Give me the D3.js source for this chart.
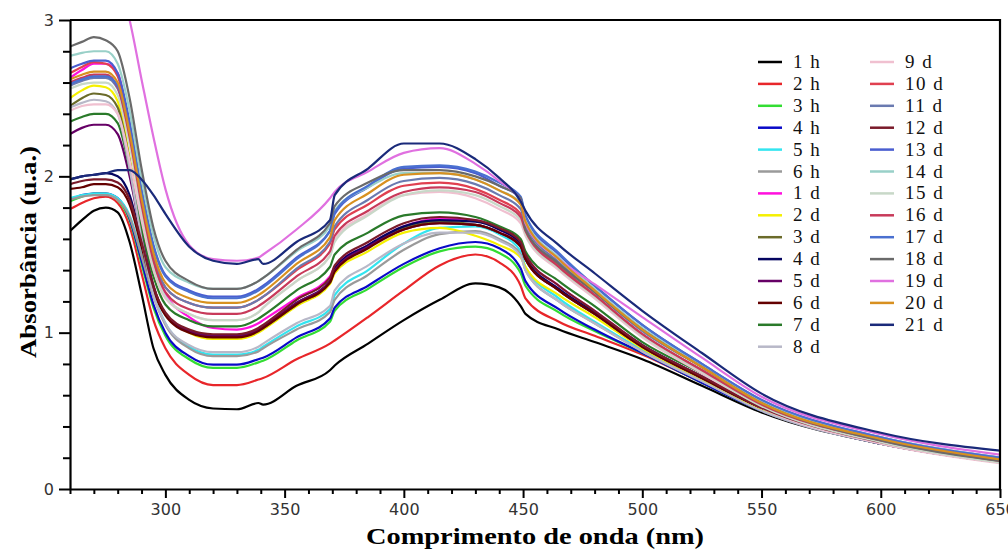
<!DOCTYPE html>
<html><head><meta charset="utf-8">
<script src="https://cdn.jsdelivr.net/npm/d3@7"></script>
<style>body{margin:0;background:#fff}svg{display:block}</style>
</head><body>
<svg id="c" width="1008" height="550"></svg>
<script>
const wavelengths = [260,265,270,275,280,285,290,295,300,310,320,330,339,341,355,369,371,385,400,415,430,440,449,451,465,480,500,525,550,600,650];
const seriesNames = ["1 h","2 h","3 h","4 h","5 h","6 h","1 d","2 d","3 d","4 d","5 d","6 d","7 d","8 d","9 d","10 d","11 d","12 d","13 d","14 d","15 d","16 d","17 d","18 d","19 d","20 d","21 d"];
const seriesColors = ["#000000","#e8262a","#33dd33","#0a0ac8","#33e5f0","#9a9a9a","#ff10dd","#f5f000","#6b6b2a","#050560","#660066","#640000","#2a7a2a","#b8b8c8","#f0c0d0","#e04050","#6a7ab0","#7a1a2a","#4a5ed0","#99d0c8","#c8d8c8","#c83a5a","#4a70d0","#6a6a6a","#e070e0","#d89020","#1a2a7a"];
const s1h  = [1.65,1.72,1.78,1.80,1.77,1.58,1.25,0.90,0.73,0.57,0.515,0.51,0.55,0.54,0.66,0.76,0.79,0.93,1.08,1.21,1.315,1.29,1.17,1.12,1.02,0.94,0.83,0.66,0.49,0.29,0.17];
const s2h  = [1.79,1.83,1.86,1.87,1.83,1.68,1.38,1.08,0.90,0.73,0.665,0.665,0.70,0.71,0.83,0.93,0.95,1.10,1.27,1.43,1.50,1.45,1.30,1.22,1.07,0.98,0.86,0.68,0.50,0.29,0.17];
const s3h  = [1.84,1.87,1.89,1.89,1.85,1.72,1.44,1.16,0.98,0.83,0.775,0.775,0.81,0.82,0.95,1.07,1.14,1.28,1.42,1.52,1.55,1.51,1.38,1.30,1.13,1.01,0.87,0.68,0.50,0.29,0.17];
const s4h  = [1.85,1.88,1.89,1.89,1.86,1.73,1.46,1.18,1.00,0.85,0.795,0.795,0.83,0.84,0.97,1.09,1.16,1.30,1.44,1.54,1.58,1.54,1.41,1.33,1.15,1.02,0.87,0.68,0.50,0.29,0.17];
const s5h  = [1.86,1.88,1.89,1.89,1.86,1.75,1.50,1.24,1.06,0.91,0.86,0.86,0.89,0.91,1.04,1.15,1.24,1.40,1.57,1.67,1.68,1.63,1.52,1.42,1.22,1.07,0.89,0.70,0.51,0.30,0.18];
const s6h  = [1.85,1.87,1.88,1.88,1.85,1.74,1.49,1.23,1.05,0.90,0.85,0.85,0.88,0.90,1.02,1.13,1.21,1.37,1.53,1.63,1.65,1.60,1.50,1.40,1.20,1.06,0.88,0.69,0.51,0.30,0.18];
const s1d  = [2.63,2.68,2.72,2.72,2.66,2.30,1.82,1.45,1.25,1.10,1.03,1.02,1.06,1.08,1.22,1.36,1.42,1.56,1.68,1.73,1.72,1.66,1.56,1.50,1.30,1.14,0.92,0.72,0.53,0.31,0.19];
const s2d  = [2.50,2.55,2.58,2.57,2.48,2.12,1.66,1.30,1.12,1.00,0.96,0.96,1.00,1.02,1.17,1.31,1.38,1.52,1.64,1.67,1.62,1.56,1.48,1.42,1.24,1.10,0.90,0.70,0.51,0.30,0.18];
const s3d  = [2.45,2.50,2.53,2.52,2.44,2.10,1.65,1.30,1.12,1.01,0.975,0.975,1.01,1.03,1.18,1.32,1.40,1.55,1.67,1.71,1.69,1.64,1.55,1.47,1.27,1.12,0.91,0.71,0.52,0.30,0.18];
const s4d  = [1.98,2.00,2.01,2.02,2.00,1.88,1.58,1.28,1.12,1.01,0.98,0.98,1.02,1.04,1.19,1.33,1.41,1.56,1.68,1.72,1.71,1.66,1.57,1.48,1.28,1.13,0.92,0.72,0.52,0.30,0.18];
const s5d  = [2.27,2.31,2.33,2.33,2.27,2.00,1.62,1.30,1.12,1.01,0.98,0.98,1.02,1.04,1.19,1.33,1.40,1.55,1.66,1.70,1.69,1.64,1.55,1.47,1.27,1.12,0.91,0.71,0.52,0.30,0.18];
const s6d  = [1.92,1.93,1.95,1.95,1.93,1.82,1.55,1.27,1.11,1.00,0.97,0.97,1.01,1.03,1.18,1.32,1.39,1.54,1.66,1.70,1.69,1.64,1.55,1.47,1.27,1.12,0.91,0.71,0.52,0.30,0.18];
const s7d  = [2.35,2.38,2.40,2.40,2.34,2.05,1.67,1.36,1.18,1.08,1.04,1.04,1.09,1.11,1.27,1.42,1.50,1.64,1.75,1.77,1.74,1.68,1.60,1.52,1.33,1.17,0.94,0.74,0.53,0.31,0.18];
const s8d  = [2.44,2.47,2.49,2.48,2.40,2.05,1.60,1.24,1.06,0.92,0.875,0.875,0.91,0.93,1.06,1.17,1.27,1.43,1.57,1.64,1.64,1.59,1.49,1.40,1.20,1.06,0.88,0.69,0.50,0.29,0.17];
const s9d  = [2.42,2.45,2.46,2.46,2.40,2.10,1.72,1.40,1.22,1.12,1.08,1.08,1.13,1.16,1.33,1.49,1.60,1.76,1.88,1.90,1.86,1.79,1.70,1.62,1.40,1.22,0.97,0.74,0.52,0.29,0.165];
const s10d = [2.66,2.70,2.73,2.72,2.64,2.30,1.85,1.48,1.29,1.19,1.16,1.16,1.21,1.23,1.40,1.57,1.66,1.82,1.94,1.96,1.92,1.85,1.76,1.66,1.43,1.24,0.99,0.76,0.54,0.31,0.18];
const s11d = [2.58,2.61,2.63,2.63,2.56,2.25,1.83,1.48,1.29,1.19,1.16,1.16,1.21,1.23,1.41,1.58,1.68,1.85,1.97,1.99,1.95,1.88,1.79,1.69,1.45,1.26,1.01,0.78,0.55,0.32,0.19];
const s12d = [1.95,1.97,1.98,1.98,1.96,1.85,1.58,1.29,1.13,1.02,0.99,0.99,1.03,1.05,1.21,1.35,1.43,1.58,1.70,1.74,1.72,1.67,1.58,1.50,1.30,1.14,0.92,0.72,0.52,0.30,0.18];
const s13d = [2.69,2.72,2.74,2.74,2.66,2.35,1.92,1.56,1.37,1.27,1.23,1.23,1.28,1.30,1.48,1.65,1.76,1.93,2.05,2.06,2.02,1.94,1.86,1.74,1.50,1.30,1.05,0.80,0.57,0.33,0.20];
const s14d = [2.77,2.79,2.80,2.80,2.72,2.42,1.98,1.62,1.42,1.32,1.28,1.28,1.33,1.35,1.52,1.68,1.78,1.93,2.02,2.02,1.98,1.91,1.83,1.72,1.48,1.28,1.03,0.79,0.56,0.33,0.20];
const s15d = [2.56,2.59,2.60,2.60,2.52,2.20,1.78,1.42,1.23,1.12,1.08,1.08,1.13,1.16,1.33,1.49,1.58,1.75,1.88,1.91,1.88,1.81,1.72,1.63,1.41,1.23,0.98,0.75,0.53,0.30,0.17];
const s16d = [2.60,2.63,2.65,2.65,2.57,2.25,1.82,1.46,1.26,1.15,1.12,1.12,1.17,1.19,1.36,1.52,1.62,1.78,1.90,1.93,1.90,1.83,1.74,1.65,1.42,1.24,0.99,0.76,0.54,0.31,0.18];
const s17d = [2.59,2.62,2.64,2.64,2.58,2.30,1.90,1.55,1.36,1.26,1.22,1.22,1.27,1.29,1.47,1.65,1.77,1.94,2.06,2.07,2.03,1.96,1.87,1.75,1.51,1.30,1.05,0.80,0.57,0.33,0.20];
const s18d = [2.83,2.86,2.89,2.87,2.80,2.50,2.05,1.67,1.46,1.33,1.28,1.28,1.33,1.35,1.53,1.70,1.81,1.96,2.04,2.04,2.00,1.94,1.86,1.66,1.44,1.26,1.02,0.78,0.55,0.31,0.18];
const s19d = [3.60,3.60,3.55,3.45,3.28,3.00,2.62,2.25,1.92,1.56,1.47,1.46,1.48,1.50,1.66,1.86,1.90,2.03,2.15,2.18,2.08,1.97,1.84,1.70,1.47,1.31,1.10,0.84,0.59,0.35,0.22];
const s20d = [2.62,2.65,2.67,2.67,2.60,2.28,1.86,1.51,1.32,1.22,1.19,1.19,1.24,1.26,1.44,1.61,1.72,1.89,2.01,2.02,1.98,1.91,1.82,1.71,1.47,1.27,1.02,0.78,0.55,0.32,0.19];
const s21d = [1.98,2.00,2.01,2.02,2.04,2.04,1.98,1.88,1.76,1.55,1.46,1.44,1.47,1.44,1.58,1.72,1.88,2.05,2.21,2.21,2.11,1.99,1.84,1.78,1.56,1.38,1.14,0.87,0.61,0.36,0.245];
const seriesValues = [s1h,s2h,s3h,s4h,s5h,s6h,s1d,s2d,s3d,s4d,s5d,s6d,s7d,s8d,s9d,s10d,s11d,s12d,s13d,s14d,s15d,s16d,s17d,s18d,s19d,s20d,s21d];
const xMajorTicks = [300,350,400,450,500,550,600,650];
const yMajorTicks = [0,1,2,3];

const svg = d3.select("#c");
const L=70, R=1000, T=20, B=489;
const x = d3.scaleLinear().domain([260,650]).range([L,R]);
const y = d3.scaleLinear().domain([0,3]).range([B,T]);

svg.append("clipPath").attr("id","clip").append("rect")
  .attr("x",L).attr("y",T).attr("width",R-L).attr("height",B-T);

const line = d3.line().x((d,i)=>x(wavelengths[i])).y(d=>y(d)).curve(d3.curveMonotoneX);
const g = svg.append("g").attr("clip-path","url(#clip)");
seriesValues.forEach((vals,k)=>{
  g.append("path").attr("d",line(vals)).attr("fill","none")
    .attr("stroke",seriesColors[k]).attr("stroke-width",2.2).attr("stroke-linejoin","round");
});

// frame
svg.append("path").attr("d",`M${L},${T}H${R}V${B}`).attr("fill","none").attr("stroke","#000").attr("stroke-width",2.2);

// x axis
svg.append("g").attr("transform",`translate(0,${B})`)
  .call(d3.axisBottom(x).tickValues(xMajorTicks).tickSize(9).tickSizeOuter(0).tickPadding(6).tickFormat(d3.format("d")));
svg.append("g").attr("transform",`translate(0,${B})`)
  .call(d3.axisBottom(x).tickValues(d3.range(260,651,10).filter(v=>v%50!==0)).tickSize(5).tickSizeOuter(0).tickFormat(""))
  .select(".domain").remove();
// y axis
svg.append("g").attr("transform",`translate(${L},0)`)
  .call(d3.axisLeft(y).tickValues(yMajorTicks).tickSize(11).tickSizeOuter(0).tickPadding(5).tickFormat(d3.format("d")));
svg.append("g").attr("transform",`translate(${L},0)`)
  .call(d3.axisLeft(y).tickValues(d3.range(0.2,3,0.2).filter(v=>Math.abs(v-Math.round(v))>0.01)).tickSize(7).tickSizeOuter(0).tickFormat(""))
  .select(".domain").remove();
svg.selectAll(".domain").attr("stroke","#000").attr("stroke-width",2.2);
svg.selectAll(".tick line").attr("stroke","#000").attr("stroke-width",2);
svg.selectAll(".tick text").attr("font-family","'DejaVu Sans', Verdana, sans-serif").attr("font-size",16).attr("fill","#333");

// axis titles
svg.append("text").attr("x",(L+R)/2).attr("y",544).attr("text-anchor","middle")
  .attr("font-family","'Liberation Serif','Times New Roman',serif").attr("font-weight","bold").attr("font-size",23)
  .attr("textLength",338).attr("lengthAdjust","spacingAndGlyphs")
  .text("Comprimento de onda (nm)");
svg.append("text").attr("transform","translate(36,252) rotate(-90)").attr("text-anchor","middle")
  .attr("font-family","'Liberation Serif','Times New Roman',serif").attr("font-weight","bold").attr("font-size",23)
  .attr("textLength",212).attr("lengthAdjust","spacingAndGlyphs")
  .text("Absorbância (u.a.)");

// legend
const leg = svg.append("g");
seriesNames.forEach((name,k)=>{
  const col = k<14?0:1, row = k<14?k:k-14;
  const lx = col===0?758:870, ly = 62 + row*21.9;
  leg.append("line").attr("x1",lx).attr("x2",lx+24).attr("y1",ly).attr("y2",ly)
    .attr("stroke",seriesColors[k]).attr("stroke-width",2.5);
  leg.append("text").attr("x",lx+35).attr("y",ly+6)
    .attr("font-family","'Liberation Serif','Times New Roman',serif").attr("font-size",19)
    .attr("letter-spacing","1.5").attr("fill","#111").text(name);
});
</script>
</body></html>
